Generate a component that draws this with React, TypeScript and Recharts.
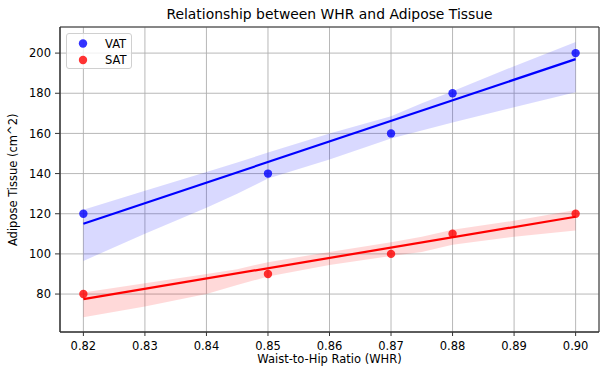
import React from 'react';
import {
  ComposedChart,
  Area,
  Line,
  Scatter,
  XAxis,
  YAxis,
  CartesianGrid,
  ReferenceArea,
} from 'recharts';

// Observed data points
const whr = [0.82, 0.85, 0.87, 0.88, 0.9];
const vat = [120, 140, 160, 180, 200];
const sat = [80, 90, 100, 110, 120];

// Regression line end points
const fitX = [0.82, 0.9];
const vatFit = [115, 197];
const satFit = [77.5, 118.5];

// Confidence bands
const bandX = [0.82, 0.83, 0.84, 0.845, 0.85, 0.86, 0.87, 0.875, 0.88, 0.89, 0.9];
const vatHi = [122, 131.5, 140.8, 145.5, 150.5, 160, 168.5, 175, 181, 193.5, 205.5];
const vatLo = [96.5, 110, 123, 130, 137.5, 147, 157.5, 161.5, 165.5, 173, 180.5];
const satHi = [80.8, 85.4, 90, 92.4, 95.9, 101, 105.8, 108.5, 112, 116.5, 121.8];
const satLo = [68.4, 73.8, 80, 84.5, 88.7, 94.5, 99, 101, 104.5, 108.6, 111.6];

const xTicks = [0.82, 0.83, 0.84, 0.85, 0.86, 0.87, 0.88, 0.89, 0.9];
const yTicks = [80, 100, 120, 140, 160, 180, 200];

const X_DOMAIN: [number, number] = [0.8162, 0.9038];
const Y_DOMAIN: [number, number] = [61.1, 213];

const table = bandX.map((x, i) => {
  const fi = fitX.indexOf(x);
  return {
    x,
    vatBand: [vatLo[i], vatHi[i]],
    satBand: [satLo[i], satHi[i]],
    vatFit: fi >= 0 ? vatFit[fi] : null,
    satFit: fi >= 0 ? satFit[fi] : null,
  };
});

const vatPoints = whr.map((x, i) => ({ x, y: vat[i] }));
const satPoints = whr.map((x, i) => ({ x, y: sat[i] }));

const FONT = '"DejaVu Sans", sans-serif';
const tickStyle = { fontFamily: FONT, fontSize: 11.5, fill: '#000' };

const dot = (color: string) => (props: any) => (
  <circle cx={props.cx} cy={props.cy} r={4.2} fill={color} fillOpacity={0.8} />
);

export default function App() {
  return (
    <div style={{ position: 'relative', width: 600, height: 369, background: '#fff' }}>
      <style>{`body{margin:0;}`}</style>
      <ComposedChart
        width={600}
        height={369}
        data={table}
        margin={{ top: 27, right: 1, bottom: 0, left: 0 }}
      >
        <CartesianGrid stroke="#b0b0b0" strokeWidth={0.9} />
        <XAxis
          dataKey="x"
          type="number"
          domain={X_DOMAIN}
          ticks={xTicks}
          tickFormatter={(v: number) => v.toFixed(2)}
          height={37}
          tickSize={4}
          tickMargin={6}
          tick={tickStyle}
          stroke="#333"
          allowDataOverflow
        />
        <YAxis
          type="number"
          domain={Y_DOMAIN}
          ticks={yTicks}
          width={60}
          tickSize={5}
          tickMargin={4}
          tick={tickStyle}
          stroke="#333"
          allowDataOverflow
        />
        <Area
          dataKey="vatBand"
          type="linear"
          stroke="none"
          fill="#0000ff"
          fillOpacity={0.15}
          isAnimationActive={false}
          activeDot={false}
        />
        <Area
          dataKey="satBand"
          type="linear"
          stroke="none"
          fill="#ff0000"
          fillOpacity={0.15}
          isAnimationActive={false}
          activeDot={false}
        />
        <Scatter data={vatPoints} dataKey="y" shape={dot('#0000ff')} isAnimationActive={false} />
        <Scatter data={satPoints} dataKey="y" shape={dot('#ff0000')} isAnimationActive={false} />
        <Line
          dataKey="vatFit"
          type="linear"
          stroke="#0000ff"
          strokeWidth={2.2}
          dot={false}
          activeDot={false}
          connectNulls
          isAnimationActive={false}
        />
        <Line
          dataKey="satFit"
          type="linear"
          stroke="#ff0000"
          strokeWidth={2.2}
          dot={false}
          activeDot={false}
          connectNulls
          isAnimationActive={false}
        />
        <ReferenceArea
          x1={X_DOMAIN[0]}
          x2={X_DOMAIN[1]}
          y1={Y_DOMAIN[0]}
          y2={Y_DOMAIN[1]}
          fill="none"
          stroke="#333"
          strokeWidth={1}
          ifOverflow="visible"
        />
        <text x={329.5} y={19} textAnchor="middle" fontFamily={FONT} fontSize={13.9} fill="#000">
          Relationship between WHR and Adipose Tissue
        </text>
        <text x={329.5} y={363} textAnchor="middle" fontFamily={FONT} fontSize={11.5} fill="#000">
          Waist-to-Hip Ratio (WHR)
        </text>
        <text
          x={17}
          y={179.8}
          transform="rotate(-90 17 179.8)"
          textAnchor="middle"
          fontFamily={FONT}
          fontSize={11.5}
          fill="#000"
        >
          Adipose Tissue (cm^2)
        </text>
      </ComposedChart>
      <div
        style={{
          position: 'absolute',
          left: 66,
          top: 33,
          width: 66,
          height: 36,
          border: '1px solid #d0d0d0',
          borderRadius: 3,
          background: 'rgba(255,255,255,0.8)',
          boxSizing: 'border-box',
        }}
      >
        <svg width={66} height={36} style={{ position: 'absolute', left: -1, top: -1 }}>
          <circle cx={17} cy={10.5} r={4.2} fill="#0000ff" fillOpacity={0.8} />
          <circle cx={17} cy={27} r={4.2} fill="#ff0000" fillOpacity={0.8} />
          <text x={39} y={14.6} fontFamily={FONT} fontSize={11.5} fill="#000">
            VAT
          </text>
          <text x={39} y={31.2} fontFamily={FONT} fontSize={11.5} fill="#000">
            SAT
          </text>
        </svg>
      </div>
    </div>
  );
}
